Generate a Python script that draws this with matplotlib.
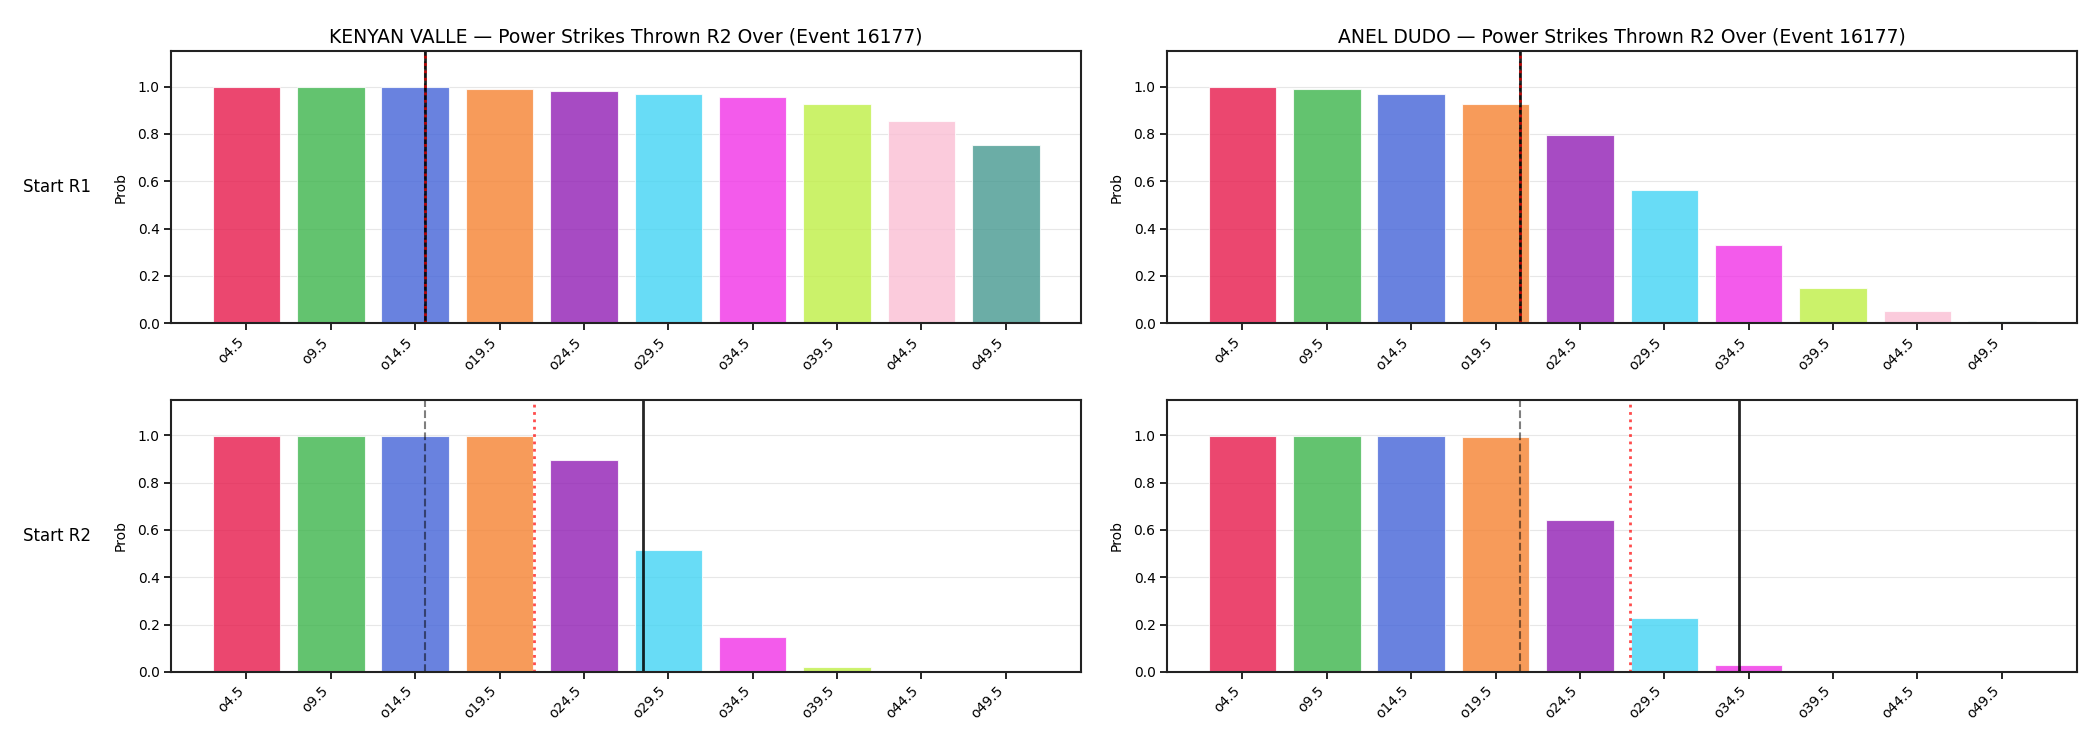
"""Power strikes thrown R2 over-probabilities for both fighters."""

import matplotlib

matplotlib.use("Agg")
import matplotlib.pyplot as plt

FIGHTERS = ["KENYAN VALLE", "ANEL DUDO"]
ROWS = ["Start R1", "Start R2"]
EVENT_ID = 16177

LINES = ["o4.5", "o9.5", "o14.5", "o19.5", "o24.5", "o29.5", "o34.5", "o39.5", "o44.5", "o49.5"]

# P(over) per line, [row][fighter]
valle_r1 = [0.997, 0.997, 0.996, 0.989, 0.980, 0.968, 0.955, 0.925, 0.853, 0.752]
dudo_r1 = [0.997, 0.989, 0.968, 0.925, 0.794, 0.561, 0.329, 0.148, 0.054, 0.011]
valle_r2 = [0.996, 0.996, 0.996, 0.996, 0.896, 0.514, 0.148, 0.021, 0.001, 0.002]
dudo_r2 = [0.996, 0.996, 0.996, 0.992, 0.642, 0.227, 0.030, 0.003, 0.001, 0.002]

# reference markers in line-index units: (prior, projection, actual)
valle_marks_r1 = [2.12, 2.12, 2.12]
dudo_marks_r1 = [3.29, 3.29, 3.29]
valle_marks_r2 = [2.12, 3.41, 4.70]
dudo_marks_r2 = [3.29, 4.59, 5.88]

COLORS = ["#e6194b", "#3cb44b", "#4363d8", "#f58231", "#911eb4",
          "#42d4f4", "#f032e6", "#bfef45", "#fabed4", "#469990"]

PANELS = [
    [(valle_r1, valle_marks_r1), (dudo_r1, dudo_marks_r1)],
    [(valle_r2, valle_marks_r2), (dudo_r2, dudo_marks_r2)],
]


def draw_panel(ax, probs, marks, title=None):
    x = list(range(len(LINES)))
    ax.bar(x, probs, color=COLORS, alpha=0.8, edgecolor="white", linewidth=0.8)
    prior, proj, actual = marks
    ax.axvline(actual, color="k", alpha=0.85, linewidth=2)
    ax.axvline(prior, color="k", alpha=0.5, linestyle="--", linewidth=1.5)
    ax.axvline(proj, color="red", alpha=0.7, linestyle=":", linewidth=2)
    ax.set_xticks(x)
    ax.set_xticklabels(LINES, rotation=45, ha="right")
    ax.set_ylim(0, 1.15)
    ax.set_ylabel("Prob", fontsize=10, labelpad=7)
    ax.tick_params(length=5, width=1.2)
    ax.grid(axis="y", alpha=0.3)
    ax.set_axisbelow(True)
    for spine in ax.spines.values():
        spine.set_linewidth(1.5)
        spine.set_color("#222222")
    if title:
        ax.set_title(title, fontsize=13.5)


def main() -> None:
    fig, axes = plt.subplots(2, 2, figsize=(21, 7.5), dpi=100)
    for r, row in enumerate(PANELS):
        for c, (probs, marks) in enumerate(row):
            title = None
            if r == 0:
                title = f"{FIGHTERS[c]} — Power Strikes Thrown R2 Over (Event {EVENT_ID})"
            draw_panel(axes[r, c], probs, marks, title)
        axes[r, 0].text(-0.088, 0.5, ROWS[r], transform=axes[r, 0].transAxes,
                        ha="right", va="center", fontsize=12)
    fig.subplots_adjust(left=0.0816, right=0.989, top=0.932, bottom=0.104,
                        wspace=0.095, hspace=0.28)
    fig.savefig("out.png", dpi=100)
    plt.close(fig)


if __name__ == "__main__":
    main()
